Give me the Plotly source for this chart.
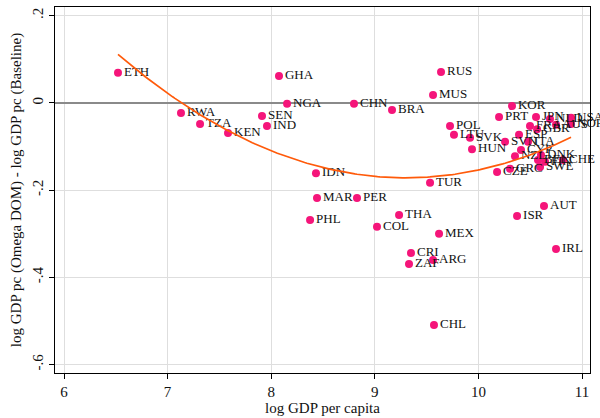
import numpy as np
import plotly.graph_objects as go

countries = ["ETH","RWA","TZA","KEN","GHA","SEN","IND","NGA","CHN","BRA","MUS","RUS",
             "IDN","MAR","PER","PHL","THA","COL","TUR","MEX","CRI","ZAF","ARG","CHL",
             "POL","LTU","SVK","HUN","PRT","KOR","JPN","NLD","USA","FRA","GBR","AUS","NOR",
             "ESP","SVN","ITA","CYP","NZL","DNK","BEL","FIN","CHE","SWE","GRC","CZE",
             "ISR","AUT","IRL"]
log_gdp = [6.521,7.129,7.313,7.583,8.075,7.911,7.959,8.153,8.799,9.166,9.562,9.639,
           8.432,8.442,8.828,8.375,9.234,9.021,9.533,9.620,9.349,9.330,9.562,9.571,
           9.726,9.764,9.919,9.938,10.199,10.324,10.556,10.691,10.894,10.498,10.566,10.749,10.894,
           10.392,10.257,10.479,10.411,10.353,10.604,10.575,10.643,10.817,10.595,10.305,10.180,
           10.373,10.633,10.749]
diff = [0.069,-0.023,-0.048,-0.069,0.062,-0.030,-0.053,-0.002,-0.002,-0.016,0.018,0.071,
        -0.161,-0.218,-0.218,-0.268,-0.257,-0.284,-0.183,-0.300,-0.344,-0.369,-0.360,-0.509,
        -0.053,-0.073,-0.080,-0.106,-0.032,-0.007,-0.032,-0.037,-0.034,-0.053,-0.060,-0.050,-0.048,
        -0.073,-0.089,-0.089,-0.108,-0.122,-0.119,-0.131,-0.135,-0.131,-0.147,-0.151,-0.158,
        -0.259,-0.236,-0.335]

x_ticks = [6, 7, 8, 9, 10, 11]
y_ticks = [-0.6, -0.4, -0.2, 0, 0.2]
y_ticklabels = ["-.6", "-.4", "-.2", "0", ".2"]

# quadratic fit (as Stata qfit)
coef = np.polyfit(log_gdp, diff, 2)
xf = np.linspace(min(log_gdp), max(log_gdp), 200)
yf = np.polyval(coef, xf)

FONT = "Liberation Serif"
fig = go.Figure()
fig.add_trace(go.Scatter(
    x=log_gdp, y=diff, mode="markers+text", text=countries,
    textposition="middle right",
    textfont=dict(family=FONT, size=13, color="#111111"),
    marker=dict(color="#F5157A", size=8),
    showlegend=False, cliponaxis=False))
fig.add_trace(go.Scatter(
    x=xf, y=yf, mode="lines", line=dict(color="#FF5A0A", width=1.7),
    showlegend=False))

fig.update_layout(
    width=600, height=418,
    margin=dict(l=55, r=10, t=7, b=45),
    paper_bgcolor="white", plot_bgcolor="white",
    font=dict(family=FONT, size=15, color="#111111"),
)
fig.update_xaxes(
    range=[5.913, 11.077], tickvals=x_ticks, automargin=False,
    showgrid=True, gridcolor="#dedede", gridwidth=1,
    showline=True, linecolor="black", linewidth=1, mirror=True,
    ticks="outside", ticklen=5, tickcolor="black",
    tickfont=dict(size=15),
    title=dict(text="log GDP per capita", font=dict(size=15), standoff=0),
    zeroline=False)
fig.update_yaxes(
    range=[-0.619, 0.220], tickvals=y_ticks, ticktext=y_ticklabels, automargin=False,
    tickangle=-90,
    showgrid=True, gridcolor="#dedede", gridwidth=1,
    showline=True, linecolor="black", linewidth=1, mirror=True,
    ticks="outside", ticklen=5, tickcolor="black",
    tickfont=dict(size=15),
    title=dict(text="log GDP pc (Omega DOM) - log GDP pc (Baseline)", font=dict(size=15), standoff=4),
    zeroline=True, zerolinecolor="#8a8a8a", zerolinewidth=1.5)

fig.write_html("out.html", config={"displayModeBar": False},
               post_script="document.body.style.margin='0';")
